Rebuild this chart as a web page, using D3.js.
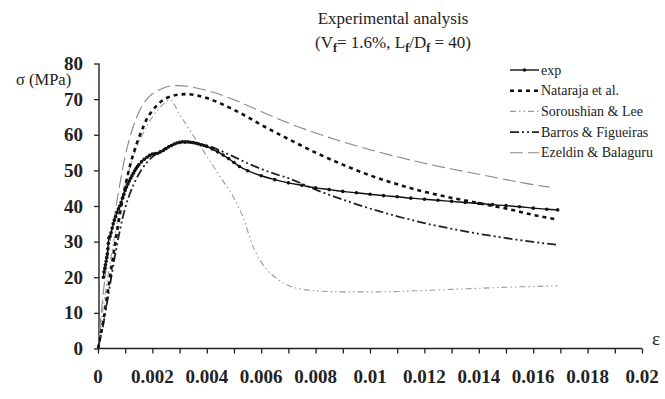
<!DOCTYPE html>
<html><head><meta charset="utf-8">
<script src="https://cdn.jsdelivr.net/npm/d3@7"></script>
<style>body{margin:0;background:#fff}svg{display:block}</style>
</head><body><svg id="c" width="665" height="399"></svg>
<script>
const xTicks = [0,0.002,0.004,0.006,0.008,0.01,0.012,0.014,0.016,0.018,0.02];
const xTickLabels = ["0","0.002","0.004","0.006","0.008","0.01","0.012","0.014","0.016","0.018","0.02"];
const yTicks = [0,10,20,30,40,50,60,70,80];
const seriesNames = ["exp","Nataraja et al.","Soroushian & Lee","Barros & Figueiras","Ezeldin & Balaguru"];

const expStrain = [0.0002,0.00022,0.00025,0.00027,0.0003,0.00032,0.00034,0.00036,0.00038,0.0004,0.00044,0.00048,0.00052,0.00056,0.0006,0.00065,0.0007,0.00075,0.0008,0.00085,0.0009,0.00095,0.001,0.00105,0.0011,0.00115,0.0012,0.00125,0.0013,0.00135,0.0014,0.00145,0.0015,0.0016,0.0017,0.0018,0.0019,0.002,0.0021,0.0022,0.0023,0.0024,0.0025,0.0026,0.0027,0.0028,0.0029,0.003,0.0031,0.0032,0.0033,0.0034,0.0035,0.0036,0.0037,0.0038,0.0039,0.004,0.0042,0.0044,0.0046,0.0048,0.005,0.0052,0.0055,0.006,0.0065,0.007,0.0075,0.008,0.0085,0.009,0.0095,0.01,0.0105,0.011,0.0115,0.012,0.0125,0.013,0.0135,0.014,0.0145,0.015,0.0155,0.016,0.0165,0.0169];
const expStress = [20.0,21.5,22.5,23.5,24.5,25.5,26.5,28,29.5,31,31.5,32.5,33.8,35,36,37,38.2,39.2,40,41,42.2,43.3,44.4,45.3,46.2,47,47.8,48.5,49.2,49.9,50.5,51.1,51.6,52.4,53.1,53.7,54.2,54.6,54.7,54.8,55.2,55.6,56.1,56.6,57.0,57.4,57.7,57.9,58.0,58.0,58.0,57.9,57.8,57.6,57.4,57.2,57.0,56.7,56.0,55.2,54.3,53.3,52.2,51.1,49.9,48.5,47.4,46.5,45.8,45.1,44.6,44.1,43.7,43.3,42.9,42.6,42.2,41.9,41.6,41.3,41.0,40.7,40.4,40.1,39.8,39.4,39.1,38.9];

const natStrain = [0,0.0002,0.0004,0.0006,0.0008,0.001,0.0012,0.0014,0.0016,0.0018,0.002,0.0022,0.0024,0.0027,0.003,0.0033,0.0036,0.004,0.0045,0.005,0.0055,0.006,0.007,0.008,0.009,0.01,0.011,0.012,0.013,0.014,0.015,0.016,0.0168];
const natStress = [0,8,18,28,37.5,45.5,52,57,61,64.5,66.8,68.5,69.8,70.8,71.3,71.4,71.1,70.3,68.8,67.0,65.0,62.8,58.8,55.0,51.6,48.6,46.1,44.0,42.3,40.8,39.3,37.5,36.3];

const sorStrain = [0,0.0002,0.0004,0.0006,0.0008,0.001,0.0012,0.0014,0.0016,0.0018,0.002,0.0022,0.0024,0.00265,0.003,0.0035,0.004,0.0045,0.005,0.0053,0.0057,0.0062,0.0066,0.007,0.0075,0.008,0.009,0.01,0.011,0.012,0.013,0.014,0.015,0.016,0.0169];
const sorStress = [0,12,22,31,39,46,51.5,56,59.5,62.5,65,67,68.6,69.8,65.7,59.8,54.0,48.1,42.2,37.5,28.6,22.2,19.5,17.7,16.6,16.2,15.9,15.9,16.0,16.3,16.6,16.9,17.2,17.4,17.6];

const barStrain = [0,0.0002,0.0004,0.0006,0.0008,0.001,0.0012,0.0014,0.0016,0.0018,0.002,0.0023,0.0026,0.003,0.0034,0.0038,0.0042,0.0046,0.005,0.0055,0.006,0.0065,0.007,0.008,0.009,0.01,0.011,0.012,0.013,0.014,0.015,0.016,0.0169];
const barStress = [0,7,16,25,33,39.5,44,47.5,50.2,52.2,53.8,55.5,56.7,57.6,57.8,57.4,56.5,55.2,53.8,52.0,50.4,49.0,47.8,44.6,41.8,39.3,37.1,35.2,33.6,32.2,31.0,29.9,29.1];

const ezeStrain = [0,0.0002,0.0004,0.0006,0.0008,0.001,0.0012,0.0014,0.0016,0.0018,0.002,0.0023,0.0026,0.0029,0.0033,0.0037,0.0042,0.005,0.006,0.007,0.008,0.009,0.01,0.011,0.012,0.013,0.014,0.015,0.016,0.0166];
const ezeStress = [0,16,28,37,46,54,60,64.5,67.8,70.0,71.5,72.8,73.6,73.8,73.6,73.0,72.0,69.8,66.5,63.3,60.5,58.0,55.8,53.8,52.0,50.4,48.9,47.4,46.0,45.3];

const FONT = '"Liberation Serif"';
const svg = d3.select("#c");
const x = d3.scaleLinear().domain([0,0.02]).range([98,642]);
const y = d3.scaleLinear().domain([0,80]).range([348.5,63.5]);

// title
const t = svg.append("g").attr("fill","#222").attr("text-anchor","middle");
t.append("text").attr("x",393).attr("y",24).style("font-family",FONT).style("font-size","17px").text("Experimental analysis");
const t2 = t.append("text").attr("x",393).attr("y",48).style("font-family",FONT).style("font-size","17px");
const parts = [["(V",false],["f",true],["= 1.6%, L",false],["f",true],["/D",false],["f",true],[" = 40)",false]];
parts.forEach(([s,sub],i)=>{
  const prevSub = i>0 && parts[i-1][1];
  const ts = t2.append("tspan").text(s).attr("dy", sub ? 4 : (prevSub ? -4 : 0));
  if(sub) ts.style("font-size","12px").style("font-weight","bold");
});

// axes
const xAxis = d3.axisBottom(x).tickValues(d3.range(0,21).map(i=>i*0.001)).tickSize(5).tickFormat("");
const gx = svg.append("g").attr("transform",`translate(0,${y(0)})`).call(xAxis);
gx.select(".domain").attr("d",`M${x(0)},0H${x(0.02)}`).attr("stroke","#222").attr("stroke-width",1.4);
gx.selectAll("line").attr("stroke","#222").attr("stroke-width",1.3);
svg.append("g").attr("fill","#222").attr("text-anchor","middle")
  .selectAll("text").data(xTicks).join("text")
  .style("font-family",FONT).style("font-size","19px").style("font-weight","bold")
  .attr("x",d=>x(d)).attr("y",383).text((d,i)=>xTickLabels[i]);

const yAxis = d3.axisLeft(y).tickValues(yTicks).tickSize(5).tickFormat("");
const gy = svg.append("g").attr("transform",`translate(${x(0)+1},0)`).call(yAxis);
gy.select(".domain").attr("d",`M0,${y(80)}V${y(0)}`).attr("stroke","#222").attr("stroke-width",1.4);
gy.selectAll("line").attr("stroke","#222").attr("stroke-width",1.3);
svg.append("g").attr("fill","#222").attr("text-anchor","end")
  .selectAll("text").data(yTicks).join("text")
  .style("font-family",FONT).style("font-size","19px").style("font-weight","bold")
  .attr("x",83).attr("y",d=>y(d)+6.5).text(d=>d);

svg.append("text").attr("x",16).attr("y",84.5).style("font-family",FONT).style("font-size","16.5px").attr("fill","#222").text("σ (MPa)");
svg.append("text").attr("x",652).attr("y",345).style("font-family",FONT).style("font-size","19px").attr("fill","#222").text("ε");

// series
const styles = [
  {stroke:"#111", w:1.4, dash:null},
  {stroke:"#111", w:2.6, dash:"4,4"},
  {stroke:"#999", w:1.1, dash:"6,3,1.5,3,1.5,3"},
  {stroke:"#222", w:1.8, dash:"9,3,2,3,2,3"},
  {stroke:"#888", w:1.1, dash:"13,5"}
];
const data = [
  d3.zip(expStrain,expStress),
  d3.zip(natStrain,natStress),
  d3.zip(sorStrain,sorStress),
  d3.zip(barStrain,barStress),
  d3.zip(ezeStrain,ezeStress)
];
const line = d3.line().x(d=>x(d[0])).y(d=>y(d[1])).curve(d3.curveMonotoneX);
[4,2,3,1,0].forEach(i=>{
  svg.append("path").datum(data[i]).attr("d",line).attr("fill","none")
    .attr("stroke",styles[i].stroke).attr("stroke-width",styles[i].w)
    .attr("stroke-dasharray",styles[i].dash);
});
svg.append("g").selectAll("circle").data(data[0]).join("circle")
  .attr("cx",d=>x(d[0])).attr("cy",d=>y(d[1])).attr("r",1.8).attr("fill","#111");

// legend
const lg = svg.append("g");
seriesNames.forEach((n,i)=>{
  const yy = 70 + i*20.7;
  lg.append("line").attr("x1",510).attr("x2",539).attr("y1",yy).attr("y2",yy)
    .attr("stroke",styles[i].stroke).attr("stroke-width",styles[i].w).attr("stroke-dasharray",styles[i].dash);
  if(i===0) lg.append("circle").attr("cx",524.5).attr("cy",yy).attr("r",1.8).attr("fill","#111");
  lg.append("text").attr("x",541).attr("y",yy+4.5).style("font-family",FONT).style("font-size","14px").attr("fill","#222").text(n);
});
</script></body></html>
